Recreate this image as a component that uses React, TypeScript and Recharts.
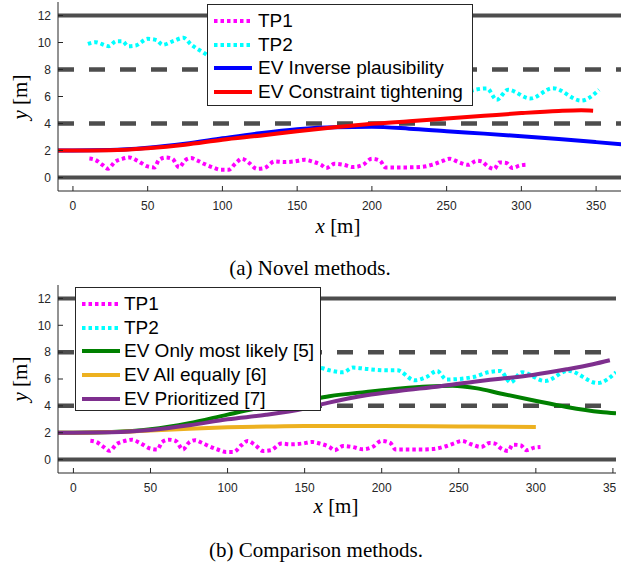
import React from 'react';
import { LineChart, Line, XAxis, YAxis } from 'recharts';

// ---------- data ----------
const xTicks = [0, 50, 100, 150, 200, 250, 300, 350];
const yTicks = [0, 2, 4, 6, 8, 10, 12];

const laneTopX = [-10, 370];
const laneBotX = [-10, 352];
const laneSolidY = [0, 12];
const laneDashedY = [4, 8];

const tp1X = [11, 15, 19.5, 23.5, 28, 33, 38, 43, 50, 54.5, 57.5, 62, 66.5, 71, 75, 79, 83, 88, 93.5, 99, 104, 109, 113, 118, 123, 128, 135, 141, 148, 155, 160, 166, 169.5, 175, 181, 187.5, 194, 200, 205.5, 209, 217, 225, 233, 240, 246.5, 252, 258, 264.5, 270, 273.5, 277.5, 282, 285, 290, 294, 299, 303];
const tp1Y = [1.4, 1.3, 0.95, 0.65, 1.15, 1.38, 1.48, 1.25, 0.82, 0.75, 1.3, 1.48, 1.38, 0.75, 1.27, 1.44, 1.27, 1.0, 0.75, 0.57, 0.57, 1.07, 1.39, 1.07, 0.64, 0.7, 1.19, 1.14, 1.19, 1.31, 1.19, 0.94, 0.7, 1.01, 0.94, 0.77, 0.94, 1.39, 1.24, 0.75, 0.75, 0.75, 0.78, 0.94, 1.19, 1.39, 1.14, 0.94, 1.24, 1.19, 0.82, 0.64, 1.11, 1.07, 0.7, 0.89, 0.94];

const tp2X = [10, 15, 24, 29, 33, 37, 42, 50, 56, 60, 67, 74, 79, 87, 95, 105, 115, 125, 135, 145, 160, 166, 175, 181.5, 190, 203, 210, 221.5, 229, 236, 242, 259.5, 269, 277, 283.5, 291, 306, 321, 340, 352];
const tp2Y = [9.9, 10.02, 9.73, 10.1, 10.1, 9.73, 9.78, 10.27, 10.17, 9.83, 10.1, 10.35, 9.85, 9.28, 8.7, 8.1, 7.55, 7.1, 6.85, 6.8, 6.83, 6.65, 6.5, 6.85, 6.75, 6.65, 6.65, 5.9, 6.15, 6.6, 5.96, 6.15, 6.5, 6.6, 5.75, 6.5, 5.85, 6.62, 5.7, 6.5];

const invX = [-10, 0, 25, 50, 75, 100, 125, 150, 175, 200, 225, 250, 275, 300, 325, 350, 375];
const invY = [2, 2, 2.03, 2.2, 2.5, 2.9, 3.28, 3.58, 3.73, 3.75, 3.62, 3.43, 3.25, 3.06, 2.85, 2.62, 2.38];

const ctX = [-10, 0, 25, 50, 75, 100, 125, 150, 175, 200, 225, 250, 275, 300, 325, 340, 348];
const ctY = [2, 2, 2.02, 2.17, 2.43, 2.8, 3.1, 3.42, 3.72, 3.98, 4.17, 4.37, 4.57, 4.77, 4.93, 4.98, 4.95];

const mlX = [-10, 0, 25, 50, 75, 100, 125, 150, 166, 190, 212, 230, 246, 262, 277, 298, 320, 342, 352];
const mlY = [2, 2, 2.05, 2.25, 2.7, 3.35, 3.95, 4.4, 4.72, 5.04, 5.3, 5.45, 5.5, 5.3, 4.92, 4.42, 3.92, 3.55, 3.45];

const aeX = [-10, 0, 25, 50, 75, 100, 125, 150, 200, 250, 300];
const aeY = [2, 2, 2.05, 2.17, 2.3, 2.4, 2.46, 2.5, 2.5, 2.47, 2.43];

const prX = [-10, 0, 25, 50, 75, 100, 125, 150, 165, 190, 212, 238, 260, 277, 298, 320, 337, 348];
const prY = [2, 2, 2.03, 2.2, 2.55, 3.0, 3.33, 3.8, 4.22, 4.79, 5.12, 5.46, 5.8, 6.02, 6.3, 6.72, 7.1, 7.4];

const topLegend = ['TP1', 'TP2', 'EV Inverse plausibility', 'EV Constraint tightening'];
const botLegend = ['TP1', 'TP2', 'EV Only most likely [5]', 'EV All equally [6]', 'EV Prioritized [7]'];

// ---------- helpers ----------
const zip = (xs: number[], ys: number[]) => xs.map((x, i) => ({ x, y: ys[i] }));

const C = {
  tp1: '#ff00ff',
  tp2: '#00ffff',
  blue: '#0000ff',
  red: '#ff0000',
  green: '#008000',
  orange: '#EDB120',
  purple: '#7E2F8E',
  lane: '#4d4d4d',
  axis: '#262626',
};
const SANS = '"Liberation Sans", Arial, Helvetica, sans-serif';
const SERIF = '"Liberation Serif", "Times New Roman", serif';

const XTick = (p: any) => {
  const axisY = p.y - 10;
  return (
    <g>
      <line x1={p.x} x2={p.x} y1={axisY} y2={axisY - 5} stroke={C.axis} strokeWidth={1} />
      <text x={p.x} y={p.y} dy="0.71em" textAnchor="middle" fontSize={12} fill={C.axis} fontFamily={SANS}>
        {p.payload.value}
      </text>
    </g>
  );
};
const YTick = (p: any) => {
  const axisX = p.x + 7;
  return (
    <g>
      <line x1={axisX} x2={axisX + 5} y1={p.y} y2={p.y} stroke={C.axis} strokeWidth={1} />
      <text x={p.x} y={p.y} dy="0.36em" textAnchor="end" fontSize={12} fill={C.axis} fontFamily={SANS}>
        {p.payload.value}
      </text>
    </g>
  );
};

const laneLines = (xs: number[], key: string) => [
  ...laneSolidY.map((v) => (
    <Line key={key + 's' + v} data={zip(xs, xs.map(() => v))} dataKey="y" stroke={C.lane} strokeWidth={4} dot={false} activeDot={false} isAnimationActive={false} />
  )),
  ...laneDashedY.map((v) => (
    <Line key={key + 'd' + v} data={zip(xs, xs.map(() => v))} dataKey="y" stroke={C.lane} strokeWidth={4.5} strokeDasharray="16 15" dot={false} activeDot={false} isAnimationActive={false} />
  )),
];

const dotted = (xs: number[], ys: number[], color: string, key: string) => (
  <Line key={key} type="monotone" data={zip(xs, ys)} dataKey="y" stroke={color} strokeWidth={4} strokeDasharray="3.5 3" strokeLinecap="butt" dot={false} activeDot={false} isAnimationActive={false} />
);
const solid = (xs: number[], ys: number[], color: string, key: string) => (
  <Line key={key} type="monotone" data={zip(xs, ys)} dataKey="y" stroke={color} strokeWidth={4} dot={false} activeDot={false} isAnimationActive={false} />
);

const axes = (domainX: number[]) => [
  <XAxis key="xa" type="number" dataKey="x" domain={domainX} allowDataOverflow ticks={xTicks} height={30} tickLine={false} tickSize={0} tickMargin={10} axisLine={{ stroke: C.axis, strokeWidth: 1 }} tick={(p: any) => <XTick {...p} />} interval={0} />,
  <YAxis key="ya" type="number" domain={[-1, 13]} allowDataOverflow ticks={yTicks} width={58} tickLine={false} tickSize={0} tickMargin={7} axisLine={{ stroke: C.axis, strokeWidth: 1 }} tick={(p: any) => <YTick {...p} />} interval={0} />,
];

const LegendBox = ({ items, colors, styles, left, top, width, height, rowH, first, sampleX, textX }: any) => (
  <div style={{ position: 'absolute', left, top, width, height, border: `1px solid ${C.axis}`, background: '#fff', boxSizing: 'border-box' }}>
    {items.map((t: string, i: number) => {
      const cy = first + i * rowH;
      return (
        <div key={t} style={{ position: 'absolute', left: 0, top: cy - 12, height: 24, width: '100%' }}>
          <svg width={40} height={24} style={{ position: 'absolute', left: sampleX, top: 0 }}>
            <line x1={1} x2={39} y1={12} y2={12} stroke={colors[i]} strokeWidth={4} strokeDasharray={styles[i] === 'dot' ? '3.5 3' : undefined} />
          </svg>
          <div style={{ position: 'absolute', left: textX, top: 0, height: 24, lineHeight: '24px', fontSize: 19, fontFamily: SANS, color: '#000', whiteSpace: 'nowrap' }}>{t}</div>
        </div>
      );
    })}
  </div>
);

export default function App() {
  return (
    <div style={{ position: 'absolute', left: 0, top: 0, width: 621, height: 565, overflow: 'hidden', background: '#fff' }}>
      <div style={{ position: 'absolute', left: 0, top: 0 }}>
        <LineChart width={626} height={221} margin={{ top: 2, right: 0, bottom: 0, left: 0 }}>
          {axes([-10, 370])}
          {laneLines(laneTopX, 't')}
          {dotted(tp1X, tp1Y, C.tp1, 'tp1')}
          {dotted(tp2X, tp2Y, C.tp2, 'tp2')}
          {solid(invX, invY, C.blue, 'inv')}
          {solid(ctX, ctY, C.red, 'ct')}
        </LineChart>
      </div>
      <div style={{ position: 'absolute', left: 0, top: 283 }}>
        <LineChart width={616} height={220} margin={{ top: 2, right: 0, bottom: 0, left: 0 }}>
          {axes([-10, 352])}
          {laneLines(laneBotX, 'b')}
          {dotted(tp1X, tp1Y, C.tp1, 'tp1')}
          {dotted(tp2X, tp2Y, C.tp2, 'tp2')}
          {solid(mlX, mlY, C.green, 'ml')}
          {solid(aeX, aeY, C.orange, 'ae')}
          {solid(prX, prY, C.purple, 'pr')}
        </LineChart>
      </div>
      <svg width={621} height={565} style={{ position: 'absolute', left: 0, top: 0, pointerEvents: 'none' }}>
        <text x={338} y={233} textAnchor="middle" fontSize={21} fontFamily={SERIF} fill="#000">
          <tspan fontStyle="italic">x</tspan> [m]
        </text>
        <text x={336} y={513} textAnchor="middle" fontSize={21} fontFamily={SERIF} fill="#000">
          <tspan fontStyle="italic">x</tspan> [m]
        </text>
        <text transform="translate(27,97) rotate(-90)" textAnchor="middle" fontSize={21} fontFamily={SERIF} fill="#000">
          <tspan fontStyle="italic">y</tspan> [m]
        </text>
        <text transform="translate(27,379) rotate(-90)" textAnchor="middle" fontSize={21} fontFamily={SERIF} fill="#000">
          <tspan fontStyle="italic">y</tspan> [m]
        </text>
        <text x={310} y={275} textAnchor="middle" fontSize={21} fontFamily={SERIF} fill="#000">(a) Novel methods.</text>
        <text x={316} y={557} textAnchor="middle" fontSize={21} fontFamily={SERIF} fill="#000">(b) Comparison methods.</text>
      </svg>
      <LegendBox items={topLegend} colors={[C.tp1, C.tp2, C.blue, C.red]} styles={['dot', 'dot', 'line', 'line']} left={207} top={4} width={266} height={102} rowH={23.5} first={16} sampleX={5} textX={50} />
      <LegendBox items={botLegend} colors={[C.tp1, C.tp2, C.green, C.orange, C.purple]} styles={['dot', 'dot', 'line', 'line', 'line']} left={75} top={287} width={246} height={124} rowH={23.7} first={16} sampleX={5} textX={48} />
    </div>
  );
}
